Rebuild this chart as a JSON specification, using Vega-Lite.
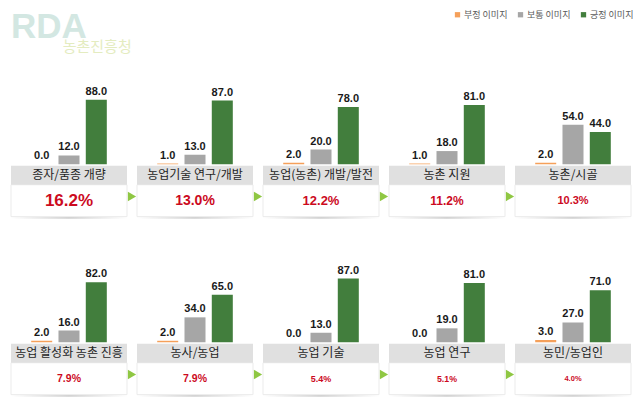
{
  "$schema": "https://vega.github.io/schema/vega-lite/v6.json",
  "padding": {"left": 10, "top": 10, "right": 5, "bottom": 5},
  "background": "white",
  "bounds": "flush",
  "title": {
    "text": "RDA",
    "subtitle": "\u200b\u3000\u3000\u3000\u00a0\u00a0농촌진흥청",
    "anchor": "start",
    "frame": "group",
    "font": "Liberation Sans",
    "fontSize": 35,
    "fontWeight": "bold",
    "color": "#d3e7e2",
    "subtitleFont": "Noto Sans CJK KR",
    "subtitleFontSize": 15,
    "subtitleColor": "#e4ecc0",
    "subtitlePadding": -5,
    "offset": -45
  },
  "data": {
    "values": [
      {"n": 1, "cat": "종자/품종 개량", "pct": 0.162, "type": "부정 이미지", "value": 0},
      {"n": 1, "cat": "종자/품종 개량", "pct": 0.162, "type": "보통 이미지", "value": 12},
      {"n": 1, "cat": "종자/품종 개량", "pct": 0.162, "type": "긍정 이미지", "value": 88},
      {"n": 2, "cat": "농업기술 연구/개발", "pct": 0.130, "type": "부정 이미지", "value": 1},
      {"n": 2, "cat": "농업기술 연구/개발", "pct": 0.130, "type": "보통 이미지", "value": 13},
      {"n": 2, "cat": "농업기술 연구/개발", "pct": 0.130, "type": "긍정 이미지", "value": 87},
      {"n": 3, "cat": "농업(농촌) 개발/발전", "pct": 0.122, "type": "부정 이미지", "value": 2},
      {"n": 3, "cat": "농업(농촌) 개발/발전", "pct": 0.122, "type": "보통 이미지", "value": 20},
      {"n": 3, "cat": "농업(농촌) 개발/발전", "pct": 0.122, "type": "긍정 이미지", "value": 78},
      {"n": 4, "cat": "농촌 지원", "pct": 0.112, "type": "부정 이미지", "value": 1},
      {"n": 4, "cat": "농촌 지원", "pct": 0.112, "type": "보통 이미지", "value": 18},
      {"n": 4, "cat": "농촌 지원", "pct": 0.112, "type": "긍정 이미지", "value": 81},
      {"n": 5, "cat": "농촌/시골", "pct": 0.103, "type": "부정 이미지", "value": 2},
      {"n": 5, "cat": "농촌/시골", "pct": 0.103, "type": "보통 이미지", "value": 54},
      {"n": 5, "cat": "농촌/시골", "pct": 0.103, "type": "긍정 이미지", "value": 44},
      {"n": 6, "cat": "농업 활성화 농촌 진흥", "pct": 0.079, "type": "부정 이미지", "value": 2},
      {"n": 6, "cat": "농업 활성화 농촌 진흥", "pct": 0.079, "type": "보통 이미지", "value": 16},
      {"n": 6, "cat": "농업 활성화 농촌 진흥", "pct": 0.079, "type": "긍정 이미지", "value": 82},
      {"n": 7, "cat": "농사/농업", "pct": 0.079, "type": "부정 이미지", "value": 2},
      {"n": 7, "cat": "농사/농업", "pct": 0.079, "type": "보통 이미지", "value": 34},
      {"n": 7, "cat": "농사/농업", "pct": 0.079, "type": "긍정 이미지", "value": 65},
      {"n": 8, "cat": "농업 기술", "pct": 0.054, "type": "부정 이미지", "value": 0},
      {"n": 8, "cat": "농업 기술", "pct": 0.054, "type": "보통 이미지", "value": 13},
      {"n": 8, "cat": "농업 기술", "pct": 0.054, "type": "긍정 이미지", "value": 87},
      {"n": 9, "cat": "농업 연구", "pct": 0.051, "type": "부정 이미지", "value": 0},
      {"n": 9, "cat": "농업 연구", "pct": 0.051, "type": "보통 이미지", "value": 19},
      {"n": 9, "cat": "농업 연구", "pct": 0.051, "type": "긍정 이미지", "value": 81},
      {"n": 10, "cat": "농민/농업인", "pct": 0.040, "type": "부정 이미지", "value": 3},
      {"n": 10, "cat": "농민/농업인", "pct": 0.040, "type": "보통 이미지", "value": 27},
      {"n": 10, "cat": "농민/농업인", "pct": 0.040, "type": "긍정 이미지", "value": 71}
    ]
  },
  "facet": {"field": "n", "type": "ordinal", "title": null, "header": {"labels": false, "labelExpr": "''", "labelFontSize": 1, "title": null, "labelPadding": 0, "titlePadding": 0}},
  "columns": 5,
  "spacing": {"row": 52, "column": 10},
  "spec": {
    "width": 116,
    "height": 126,
    "layer": [
      {
        "transform": [{"filter": "datum.type === '긍정 이미지'"}],
        "mark": {"type": "rect", "fill": {"gradient": "linear", "x1": 0, "x2": 1, "y1": 0, "y2": 0, "stops": [{"offset": 0, "color": "#ffffff"}, {"offset": 0.5, "color": "#cfcfcf"}, {"offset": 1, "color": "#ffffff"}]}},
        "encoding": {
          "x": {"value": 0},
          "x2": {"value": "width"},
          "y": {"datum": -71.5, "type": "quantitative", "axis": null},
          "y2": {"datum": -74.5}
        }
      },
      {
        "transform": [{"filter": "datum.type === '긍정 이미지'"}],
        "mark": {"type": "rect", "fill": "#ffffff", "stroke": "#ebebeb", "strokeWidth": 1},
        "encoding": {
          "x": {"value": 0},
          "x2": {"value": "width"},
          "y": {"datum": -28, "type": "quantitative", "axis": null},
          "y2": {"datum": -71.5}
        }
      },
      {
        "transform": [{"filter": "datum.type === '긍정 이미지'"}],
        "mark": {"type": "rect", "fill": "#e0e0e0"},
        "encoding": {
          "x": {"value": 0},
          "x2": {"value": "width"},
          "y": {"datum": -2, "type": "quantitative", "axis": null},
          "y2": {"datum": -28}
        }
      },
      {
        "mark": {"type": "bar"},
        "encoding": {
          "x": {"field": "type", "type": "nominal", "axis": null, "scale": {"domain": ["부정 이미지", "보통 이미지", "긍정 이미지"], "paddingInner": 0.23, "paddingOuter": 0.74}},
          "y": {"field": "value", "type": "quantitative", "axis": null, "scale": {"domain": [-72, 100], "nice": false, "zero": false}},
          "color": {
            "field": "type", "type": "nominal",
            "scale": {"domain": ["부정 이미지", "보통 이미지", "긍정 이미지"], "range": ["#f5a05a", "#a6a6a6", "#427e3d"]},
            "legend": {"orient": "none", "legendX": 442, "legendY": -81, "direction": "horizontal", "columns": 3, "title": null, "symbolType": "square", "symbolSize": 28, "symbolStrokeWidth": 0, "labelFont": "Noto Sans CJK KR", "labelFontSize": 9, "labelColor": "#595959", "columnPadding": 8, "labelOffset": 2}
          }
        }
      },
      {
        "mark": {"type": "text", "font": "Liberation Sans", "fontSize": 11, "fontWeight": "bold", "color": "#1a1a1a", "baseline": "alphabetic", "dy": -5},
        "encoding": {
          "x": {"field": "type", "type": "nominal", "axis": null},
          "y": {"field": "value", "type": "quantitative", "axis": null},
          "text": {"field": "value", "type": "quantitative", "format": ".1f"}
        }
      },
      {
        "transform": [{"filter": "datum.type === '긍정 이미지'"}],
        "mark": {"type": "text", "font": "Noto Sans CJK KR", "fontSize": 12, "color": "#1f1f1f", "baseline": "middle", "align": "center"},
        "encoding": {
          "x": {"datum": "보통 이미지", "type": "nominal", "axis": null},
          "y": {"datum": -15, "type": "quantitative", "axis": null},
          "text": {"field": "cat", "type": "nominal"}
        }
      },
      {
        "transform": [{"filter": "datum.type === '긍정 이미지'"}],
        "mark": {"type": "text", "font": "Liberation Sans", "fontWeight": "bold", "color": "#cc0a1e", "baseline": "middle", "align": "center"},
        "encoding": {
          "x": {"datum": "보통 이미지", "type": "nominal", "axis": null},
          "y": {"datum": -50, "type": "quantitative", "axis": null},
          "text": {"field": "pct", "type": "quantitative", "format": ".1%"},
          "size": {"field": "pct", "type": "quantitative", "legend": null, "scale": {"type": "linear", "domain": [0.04, 0.051, 0.079, 0.103, 0.112, 0.122, 0.13, 0.162], "range": [7.5, 8.8, 10.5, 11, 12, 13, 14, 17]}}
        }
      },
      {
        "transform": [{"filter": "datum.type === '긍정 이미지' && datum.n % 5 !== 0"}],
        "mark": {"type": "point", "shape": "triangle-right", "filled": true, "color": "#8fc743", "opacity": 1, "size": 90, "xOffset": 5},
        "encoding": {
          "x": {"value": "width"},
          "y": {"datum": -44, "type": "quantitative", "axis": null}
        }
      }
    ]
  },
  "config": {
    "view": {"stroke": null},
    "axis": {"disable": true},
    "header": {"labels": false, "title": null, "labelPadding": 0},
    "headerFacet": {"labels": false, "title": null, "labelPadding": 0}
  }
}
